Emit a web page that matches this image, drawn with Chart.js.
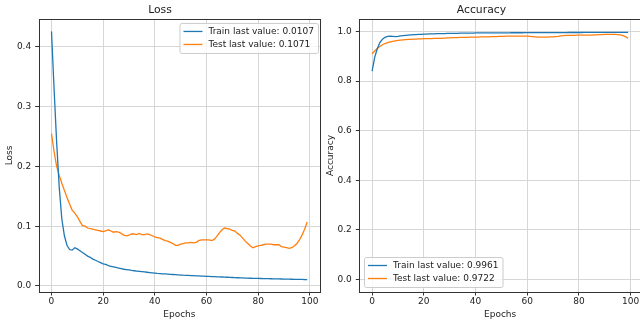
<!DOCTYPE html>
<html>
<head>
<meta charset="utf-8">
<script src="https://cdn.jsdelivr.net/npm/chart.js@4/dist/chart.umd.min.js"></script>
<style>
  html, body { margin: 0; padding: 0; background: #fff; }
  body { width: 640px; height: 326px; overflow: hidden; position: relative; }
  canvas { position: absolute; top: 0; }
  #lossChart { left: 0; }
  #accChart { left: 322px; }
</style>
</head>
<body>
<canvas id="lossChart" width="322" height="326"></canvas>
<canvas id="accChart" width="322" height="326"></canvas>
<script>
const epochs = Array.from({ length: 100 }, (_, i) => i);
const epochTicks = [0, 20, 40, 60, 80, 100];
const lossTicks = [0, 0.1, 0.2, 0.3, 0.4];
const accTicks = [0, 0.2, 0.4, 0.6, 0.8, 1.0];

const trainLoss = [
  0.426, 0.330, 0.240, 0.165, 0.112, 0.084, 0.068, 0.061, 0.060, 0.064,
  0.062, 0.059, 0.056, 0.053, 0.050, 0.048, 0.045, 0.043, 0.041, 0.039,
  0.037, 0.036, 0.034, 0.033, 0.032, 0.031, 0.030, 0.029, 0.028, 0.0275,
  0.027, 0.026, 0.0255, 0.025, 0.0245, 0.024, 0.0235, 0.023, 0.0225, 0.022,
  0.0215, 0.021, 0.0207, 0.0204, 0.0201, 0.0198, 0.0195, 0.0192, 0.0189, 0.0186,
  0.0183, 0.018, 0.0178, 0.0176, 0.0174, 0.0172, 0.017, 0.0168, 0.0166, 0.0164,
  0.0162, 0.016, 0.0158, 0.0156, 0.0154, 0.0152, 0.015, 0.0148, 0.0146, 0.0144,
  0.0142, 0.014, 0.0138, 0.0136, 0.0134, 0.0132, 0.013, 0.0129, 0.0128, 0.0127,
  0.0126, 0.0125, 0.0124, 0.0123, 0.0122, 0.0121, 0.012, 0.0119, 0.0118, 0.0117,
  0.0116, 0.0115, 0.0114, 0.0113, 0.0112, 0.0111, 0.011, 0.0109, 0.0108, 0.0107,
];
const testLoss = [
  0.255, 0.225, 0.200, 0.185, 0.172, 0.160, 0.148, 0.137, 0.127, 0.122,
  0.116, 0.108, 0.101, 0.100, 0.097, 0.096, 0.095, 0.094, 0.093, 0.092,
  0.091, 0.092, 0.094, 0.092, 0.090, 0.091, 0.090, 0.088, 0.085, 0.084,
  0.085, 0.087, 0.087, 0.086, 0.088, 0.086, 0.086, 0.087, 0.086, 0.084,
  0.082, 0.081, 0.080, 0.078, 0.076, 0.075, 0.073, 0.071, 0.068, 0.068,
  0.070, 0.071, 0.072, 0.072, 0.073, 0.072, 0.073, 0.076, 0.077, 0.077,
  0.077, 0.077, 0.076, 0.078, 0.083, 0.089, 0.094, 0.097, 0.096, 0.095,
  0.093, 0.092, 0.088, 0.085, 0.080, 0.075, 0.071, 0.067, 0.064, 0.066,
  0.067, 0.068, 0.069, 0.070, 0.070, 0.070, 0.069, 0.069, 0.069, 0.066,
  0.065, 0.064, 0.063, 0.064, 0.067, 0.071, 0.077, 0.085, 0.095, 0.1071,
];
const trainAcc = [
  0.840, 0.895, 0.930, 0.955, 0.968, 0.976, 0.980, 0.981, 0.980, 0.979,
  0.980, 0.982, 0.983, 0.984, 0.985, 0.986, 0.987, 0.987, 0.988, 0.988,
  0.989, 0.989, 0.990, 0.990, 0.990, 0.991, 0.991, 0.991, 0.991, 0.992,
  0.992, 0.992, 0.992, 0.992, 0.993, 0.993, 0.993, 0.993, 0.993, 0.993,
  0.994, 0.994, 0.994, 0.994, 0.994, 0.994, 0.994, 0.994, 0.994, 0.994,
  0.9942, 0.9942, 0.9943, 0.9943, 0.9944, 0.9944, 0.9945, 0.9945, 0.9945, 0.9946,
  0.9947, 0.9947, 0.9948, 0.9948, 0.9949, 0.9949, 0.995, 0.995, 0.995, 0.995,
  0.9951, 0.9951, 0.9952, 0.9952, 0.9953, 0.9953, 0.9954, 0.9954, 0.9954, 0.9955,
  0.9955, 0.9955, 0.9956, 0.9956, 0.9957, 0.9957, 0.9957, 0.9958, 0.9958, 0.9958,
  0.9959, 0.9959, 0.9959, 0.996, 0.996, 0.996, 0.996, 0.9961, 0.9961, 0.9961,
];
const testAcc = [
  0.910, 0.921, 0.931, 0.939, 0.946, 0.951, 0.955, 0.958, 0.960, 0.962,
  0.964, 0.965, 0.966, 0.967, 0.968, 0.968, 0.969, 0.969, 0.970, 0.970,
  0.971, 0.971, 0.971, 0.971, 0.972, 0.972, 0.972, 0.972, 0.973, 0.974,
  0.974, 0.975, 0.975, 0.975, 0.976, 0.976, 0.976, 0.976, 0.977, 0.977,
  0.977, 0.977, 0.978, 0.978, 0.978, 0.978, 0.979, 0.979, 0.979, 0.980,
  0.980, 0.980, 0.981, 0.981, 0.981, 0.981, 0.981, 0.981, 0.981, 0.981,
  0.981, 0.980, 0.979, 0.978, 0.977, 0.977, 0.977, 0.977, 0.977, 0.978,
  0.978, 0.979, 0.980, 0.982, 0.983, 0.984, 0.984, 0.984, 0.984, 0.985,
  0.985, 0.985, 0.985, 0.985, 0.985, 0.985, 0.986, 0.986, 0.987, 0.987,
  0.988, 0.988, 0.988, 0.988, 0.988, 0.987, 0.986, 0.983, 0.979, 0.9722,
];

const BLUE = '#1f77b4';
const ORANGE = '#ff7f0e';
const FONT = 'DejaVu Sans';
const TEXT = '#222';

const last = (arr) => arr[arr.length - 1].toFixed(4);
const points = (vals) => epochs.map((e, i) => ({ x: e, y: vals[i] }));

// matplotlib style: all four spines + an in-axes legend box
const framePlugin = {
  id: 'frame',
  afterDraw(chart, args, opts) {
    const { ctx, chartArea: a } = chart;
    ctx.save();
    ctx.strokeStyle = '#333';
    ctx.lineWidth = 1;
    ctx.strokeRect(Math.round(a.left) + 0.5, Math.round(a.top) + 0.5,
      Math.round(a.right - a.left), Math.round(a.bottom - a.top));

    ctx.font = `9px "${FONT}"`;
    const ds = chart.data.datasets;
    const textW = Math.max(...ds.map(d => ctx.measureText(d.label).width));
    const w = 4 + 19 + 6 + textW + 4;
    const h = 30;
    let x, y;
    if (opts.corner === 'upper right') {
      x = a.right - 2 - w;
      y = a.top + 4;
    } else {
      x = a.left + 4.7;
      y = a.bottom - 5 - h;
    }
    ctx.fillStyle = 'rgba(255,255,255,0.8)';
    ctx.strokeStyle = '#cccccc';
    ctx.beginPath();
    ctx.roundRect(x + 0.5, y + 0.5, w, h, 2);
    ctx.fill();
    ctx.stroke();
    ds.forEach((d, i) => {
      const ry = y + 8.5 + i * 13;
      ctx.strokeStyle = d.borderColor;
      ctx.lineWidth = 1.3;
      ctx.beginPath();
      ctx.moveTo(x + 4, ry);
      ctx.lineTo(x + 23, ry);
      ctx.stroke();
      ctx.fillStyle = TEXT;
      ctx.textBaseline = 'middle';
      ctx.textAlign = 'left';
      ctx.fillText(d.label, x + 29, ry);
    });
    ctx.restore();
  },
};

function makeChart(id, cfg) {
  const fixTicks = (list) => (scale) => {
    scale.ticks = list.map(v => ({ value: v }));
  };
  const noPad = (scale) => {
    scale.paddingLeft = 0;
    scale.paddingRight = 0;
    scale.paddingTop = 0;
    scale.paddingBottom = 0;
  };
  return new Chart(document.getElementById(id), {
    type: 'line',
    data: {
      datasets: [
        {
          label: `Train last value: ${last(cfg.train)}`,
          data: points(cfg.train),
          borderColor: BLUE,
          borderWidth: 1.3,
          pointRadius: 0,
          tension: 0,
        },
        {
          label: `Test last value: ${last(cfg.test)}`,
          data: points(cfg.test),
          borderColor: ORANGE,
          borderWidth: 1.3,
          pointRadius: 0,
          tension: 0,
        },
      ],
    },
    options: {
      responsive: false,
      animation: false,
      layout: { padding: { left: 0, right: cfg.padRight, top: 0, bottom: 0 } },
      plugins: {
        legend: { display: false },
        tooltip: { enabled: false },
        title: {
          display: true,
          text: cfg.title,
          color: TEXT,
          font: { family: FONT, size: 10.8, weight: 'normal' },
          padding: { top: 3.5, bottom: 2.5 },
        },
        frame: { corner: cfg.legendCorner },
      },
      scales: {
        x: {
          type: 'linear',
          min: -4.95,
          max: 103.95,
          afterBuildTicks: fixTicks(epochTicks),
          afterFit: (s) => { noPad(s); s.height = 34; },
          border: { display: false },
          grid: { color: '#d6d6d6', lineWidth: 1, tickColor: '#333', tickLength: 3.5 },
          ticks: {
            autoSkip: false,
            maxRotation: 0,
            padding: 1,
            color: TEXT,
            font: { family: FONT, size: 9 },
            callback: (v) => String(v),
          },
          title: {
            display: true,
            text: 'Epochs',
            color: TEXT,
            font: { family: FONT, size: 9 },
            padding: { top: 0, bottom: 5.9 },
          },
        },
        y: {
          min: cfg.yMin,
          max: cfg.yMax,
          afterBuildTicks: fixTicks(cfg.yTicks),
          afterFit: (s) => { noPad(s); s.width = cfg.yWidth; },
          border: { display: false },
          grid: { color: '#d6d6d6', lineWidth: 1, tickColor: '#333', tickLength: 3.5 },
          ticks: {
            autoSkip: false,
            padding: 4,
            color: TEXT,
            font: { family: FONT, size: 9 },
            callback: (v) => Number(v).toFixed(1),
          },
          title: {
            display: true,
            text: cfg.yLabel,
            color: TEXT,
            font: { family: FONT, size: 9 },
            padding: { top: cfg.yTitlePad, bottom: 0 },
          },
        },
      },
    },
    plugins: [framePlugin],
  });
}

const lossMin = Math.min(...trainLoss, ...testLoss);
const lossMax = Math.max(...trainLoss, ...testLoss);
const lossPad = (lossMax - lossMin) * 0.05;

makeChart('lossChart', {
  title: 'Loss',
  yLabel: 'Loss',
  train: trainLoss,
  test: testLoss,
  yMin: lossMin - lossPad,
  yMax: lossMax + lossPad,
  yTicks: lossTicks,
  yWidth: 38.7,
  yTitlePad: 4.6,
  padRight: 2,
  legendCorner: 'upper right',
});

makeChart('accChart', {
  title: 'Accuracy',
  yLabel: 'Accuracy',
  train: trainAcc,
  test: testAcc,
  yMin: -0.05,
  yMax: 1.05,
  yTicks: accTicks,
  yWidth: 37.3,
  yTitlePad: 3.1,
  padRight: 3.1,
  legendCorner: 'lower left',
});
</script>
</body>
</html>
